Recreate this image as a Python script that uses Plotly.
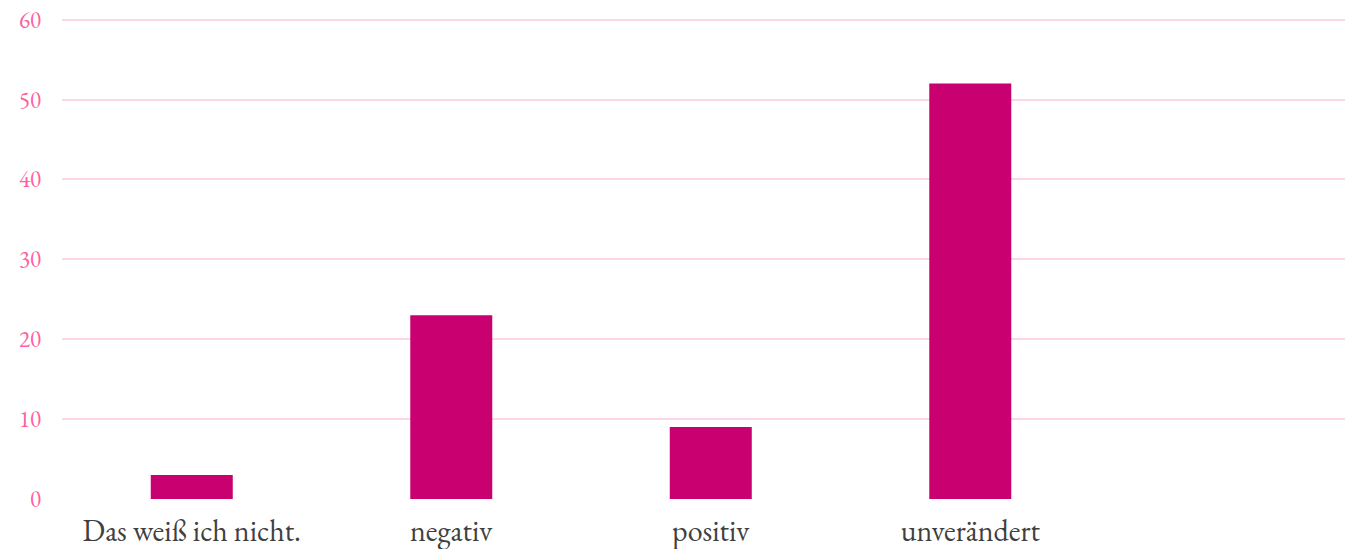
import plotly.graph_objects as go

# Survey answers and their counts
categories = ["Das weiß ich nicht.", "negativ", "positiv", "unverändert"]
counts = [3, 23, 9, 52]
y_ticks = [0, 10, 20, 30, 40, 50, 60]

BAR_COLOR = "#C9006F"
GRID_COLOR = "#FFD6E8"
Y_LABEL_COLOR = "#FF5FA2"
X_LABEL_COLOR = "#404040"
FONT = "Garamond, 'EB Garamond', 'Liberation Serif', serif"

positions = list(range(len(categories)))

fig = go.Figure(
    go.Bar(
        x=positions,
        y=counts,
        width=0.316,
        marker=dict(color=BAR_COLOR, line=dict(width=0)),
        hoverinfo="x+y",
    )
)

fig.update_layout(
    width=1345,
    height=549,
    margin=dict(l=62, r=0, t=18, b=50),
    paper_bgcolor="white",
    plot_bgcolor="white",
    showlegend=False,
    font=dict(family=FONT),
)

fig.update_xaxes(
    range=[-0.5, 4.444],
    tickmode="array",
    tickvals=positions,
    ticktext=categories,
    tickfont=dict(size=30, color=X_LABEL_COLOR, family=FONT),
    showgrid=False,
    zeroline=False,
    showline=False,
    ticks="",
    ticklabelstandoff=11,
    automargin=False,
)

# range slightly above 60 so the top gridline is kept inside the plot
fig.update_yaxes(
    range=[0, 60.2],
    tickmode="array",
    tickvals=y_ticks,
    tickfont=dict(size=23, color=Y_LABEL_COLOR, family=FONT),
    showgrid=True,
    gridcolor=GRID_COLOR,
    gridwidth=2,
    zeroline=False,
    showline=False,
    ticks="",
    ticklabelstandoff=20,
    automargin=False,
)

fig.write_html("out.html")
